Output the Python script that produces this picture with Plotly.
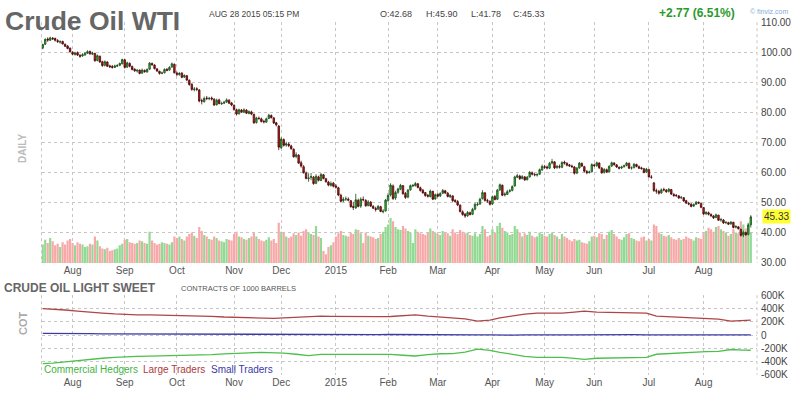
import plotly.graph_objects as go
import pandas as pd

# ---------------- data ----------------
holidays = ["2014-09-01", "2014-11-27", "2014-12-25", "2015-01-01",
            "2015-04-03", "2015-05-25", "2015-07-03"]
days = [d.strftime("%Y-%m-%d") for d in pd.bdate_range("2014-07-16", "2015-08-28")
        if d.strftime("%Y-%m-%d") not in holidays]

opens = [
    101.4, 102.7, 104.4, 104.0, 104.7, 104.6, 103.9, 103.4, 103.6, 102.7, 102.1, 101.4,
    100.0, 99.3, 99.9, 99.0, 98.8, 99.1, 99.7, 100.3, 99.4, 99.6, 97.3, 98.7, 96.9, 95.7, 96.8, 95.5, 95.3, 95.0, 95.4, 95.7, 96.2,
    97.5, 95.1, 96.3, 95.3, 94.4, 93.8, 94.1, 93.1, 94.0, 93.5, 94.4, 96.3, 95.8, 94.5, 93.7, 93.1, 93.2, 94.4, 94.1, 95.1, 96.0,
    93.1, 92.6, 93.1, 91.8, 92.2, 90.7, 89.4, 87.6, 87.9, 87.5, 83.9, 83.6, 84.8, 84.6, 84.8, 84.4, 82.6, 84.2, 82.9, 83.1, 83.5, 84.1, 83.2,
    82.4, 80.9, 79.6, 80.8, 80.1, 80.8, 79.7, 80.2, 79.4, 76.7, 78.1, 77.9, 77.1, 76.8, 78.0, 79.0, 78.2, 76.6, 75.5,
    68.3, 71.0, 69.2, 69.5, 68.9, 67.8, 65.4, 65.8, 63.3, 62.0, 59.9, 58.0, 58.4, 58.5, 56.5, 58.6, 57.4, 59.3, 58.0, 56.9, 55.8, 56.5,
    55.6, 55.0, 52.5, 50.7, 51.3, 51.2, 50.7, 48.8, 48.3, 50.8, 48.9, 51.1, 50.8, 49.1, 50.2, 48.8, 48.1, 47.9, 48.7, 47.0, 47.3,
    50.8, 52.6, 55.6, 51.6, 53.5, 54.5, 55.7, 53.1, 51.9, 54.3, 55.6, 55.7, 56.3, 55.0, 54.2, 53.4, 52.5, 52.1, 53.8, 51.3,
    52.8, 52.3, 53.2, 54.0, 53.2, 52.0, 52.3, 50.8, 50.4, 49.2, 47.0, 46.2, 45.7, 46.7, 46.2, 47.9, 49.4, 49.6, 51.4, 53.3, 50.7, 50.5,
    49.6, 52.1, 51.2, 54.3, 55.8, 52.6, 52.8, 53.8, 54.1, 55.6, 58.5, 58.9, 58.1, 58.6, 57.7, 58.6, 60.0, 59.4, 59.2, 59.5, 60.9,
    62.0, 61.9, 61.5, 63.2, 63.6, 61.7, 62.0, 61.8, 63.5, 63.1, 62.6, 62.2, 61.9, 59.9, 61.6, 63.1, 62.0, 60.4, 60.1, 60.3,
    62.6, 62.3, 63.2, 61.5, 60.1, 61.0, 60.3, 62.2, 63.2, 62.6, 61.8, 61.6, 62.0, 62.4, 63.1, 61.6, 61.7, 62.7, 62.0, 61.6, 61.3, 60.2,
    61.0, 58.5, 56.6, 54.0, 53.8, 53.3, 54.4, 54.2, 53.8, 54.4, 52.8, 52.5, 52.3, 51.7, 51.7, 50.7, 49.8, 49.5, 48.9, 49.5, 50.1, 49.8,
    48.4, 46.4, 46.7, 46.1, 45.6, 45.1, 45.9, 44.3, 44.3, 43.4, 43.4, 43.0, 43.5, 41.9, 42.0, 41.2, 39.3, 40.1, 39.5, 42.68,
]
highs = [
    102.9, 104.7, 105.0, 105.2, 105.1, 104.9, 104.4, 104.0, 103.9, 102.9, 102.4, 101.6,
    100.4, 100.2, 100.3, 99.4, 99.7, 100.1, 100.7, 100.6, 100.2, 99.9, 99.3, 98.9, 97.2, 97.3, 97.0, 95.9, 95.8, 95.9, 96.1, 96.6, 97.9,
    97.8, 96.9, 96.7, 95.6, 94.7, 94.5, 94.3, 94.6, 94.3, 94.7, 96.8, 96.6, 96.0, 94.8, 93.9, 93.6, 94.7, 94.7, 95.4, 96.6, 96.3,
    93.6, 93.5, 93.4, 92.7, 92.5, 91.0, 89.7, 88.5, 88.4, 87.8, 84.6, 85.3, 85.5, 85.2, 85.3, 84.8, 84.6, 84.6, 83.6, 83.9, 84.7, 84.4, 83.5,
    82.7, 81.3, 81.3, 81.2, 81.4, 81.1, 80.7, 80.6, 79.6, 78.6, 78.7, 78.3, 77.6, 78.3, 79.6, 79.4, 78.5, 76.9, 75.8,
    71.8, 71.4, 70.3, 70.1, 69.3, 68.1, 66.8, 66.2, 64.0, 62.5, 60.4, 59.8, 59.9, 58.9, 59.5, 59.0, 59.9, 59.6, 58.3, 57.3, 57.1, 56.9,
    56.2, 55.3, 53.0, 51.9, 52.1, 51.8, 50.9, 50.3, 53.0, 51.4, 51.8, 52.1, 51.2, 50.9, 50.6, 49.3, 48.7, 49.3, 49.0, 47.9, 51.3,
    53.2, 56.5, 56.1, 54.0, 55.0, 56.3, 55.9, 53.6, 54.6, 56.1, 56.2, 56.9, 56.6, 55.4, 54.6, 53.6, 52.9, 54.4, 54.0, 53.1,
    53.2, 53.5, 54.6, 54.3, 53.6, 52.9, 52.5, 51.2, 50.9, 49.5, 47.5, 46.6, 47.3, 47.1, 48.3, 50.0, 50.2, 51.7, 54.2, 53.6, 51.3, 50.8,
    52.4, 52.6, 54.6, 56.4, 56.1, 53.5, 54.3, 54.6, 55.8, 59.0, 59.6, 59.3, 59.2, 58.9, 58.9, 60.6, 60.4, 59.9, 59.8, 61.4, 62.7,
    62.6, 62.4, 63.6, 64.6, 63.9, 62.6, 62.7, 63.8, 64.0, 63.5, 62.9, 62.7, 62.2, 61.9, 63.6, 63.4, 62.3, 60.9, 60.7, 63.1,
    63.0, 63.7, 63.5, 61.9, 61.5, 61.4, 62.5, 63.7, 63.5, 62.9, 62.1, 62.3, 62.7, 63.6, 63.4, 62.1, 63.2, 63.0, 62.4, 62.0, 61.6, 61.6,
    61.3, 59.2, 56.9, 54.7, 54.3, 54.8, 55.0, 54.6, 54.9, 54.6, 53.2, 52.9, 52.6, 52.3, 51.9, 51.0, 50.3, 49.9, 49.8, 50.6, 50.5, 50.1,
    48.6, 47.2, 47.1, 46.5, 45.9, 46.4, 46.0, 45.0, 44.6, 43.9, 43.7, 43.9, 43.7, 42.6, 42.3, 41.4, 40.8, 40.4, 43.1, 45.90,
]
lows = [
    101.0, 102.4, 103.5, 103.8, 104.1, 103.6, 103.1, 102.9, 102.6, 101.8, 101.0, 99.9,
    99.0, 98.9, 98.8, 98.2, 98.5, 98.9, 99.5, 99.2, 99.1, 96.9, 97.0, 96.5, 95.2, 95.3, 95.1, 94.8, 94.6, 94.8, 95.1, 95.4, 96.0,
    94.6, 94.8, 95.0, 94.0, 93.5, 93.3, 92.7, 92.8, 93.2, 93.2, 94.1, 95.5, 94.3, 93.5, 92.6, 92.7, 93.0, 93.7, 93.9, 94.9, 93.0,
    92.1, 92.2, 91.4, 91.5, 90.4, 88.9, 87.2, 87.0, 87.1, 83.4, 82.7, 83.3, 84.1, 84.1, 84.0, 82.2, 82.3, 82.7, 82.5, 82.8, 83.2, 82.8, 82.1,
    80.6, 79.0, 79.3, 79.9, 79.8, 79.5, 79.4, 79.1, 76.2, 76.3, 77.6, 76.7, 76.4, 76.6, 77.8, 78.0, 76.2, 75.4, 67.5,
    67.9, 68.7, 68.6, 68.5, 67.6, 65.0, 64.8, 62.9, 61.7, 59.7, 57.8, 57.0, 57.5, 56.0, 56.2, 57.1, 57.2, 57.8, 56.7, 55.5, 55.4, 55.1,
    54.7, 52.2, 50.1, 50.2, 50.6, 50.5, 48.4, 47.6, 48.0, 48.5, 48.3, 50.5, 48.7, 48.8, 48.6, 47.9, 47.1, 47.7, 46.9, 46.5, 47.1,
    50.3, 52.1, 51.0, 51.0, 53.0, 54.2, 52.7, 51.3, 51.5, 54.0, 55.2, 55.4, 54.8, 53.7, 53.0, 52.0, 51.7, 51.8, 50.9, 51.0,
    51.8, 51.9, 52.9, 52.9, 51.8, 51.6, 50.3, 50.0, 48.9, 46.8, 45.7, 45.0, 45.3, 45.8, 45.9, 47.5, 48.9, 49.3, 51.1, 50.4, 50.0, 49.1,
    49.3, 50.8, 50.9, 53.9, 52.2, 52.1, 52.6, 53.4, 53.8, 55.4, 58.2, 57.6, 57.8, 57.3, 57.4, 58.4, 59.1, 58.8, 58.7, 59.2, 60.6,
    61.3, 61.1, 61.2, 62.8, 61.2, 61.3, 61.4, 61.5, 62.7, 62.1, 61.9, 61.6, 59.4, 59.5, 61.3, 61.9, 60.1, 59.5, 59.7, 60.1,
    61.9, 62.0, 61.2, 59.6, 59.7, 59.9, 60.0, 61.9, 62.3, 61.6, 61.1, 61.2, 61.7, 62.1, 61.2, 61.0, 61.4, 61.8, 61.2, 61.0, 59.8, 59.9,
    58.4, 58.0, 53.6, 53.0, 52.7, 53.0, 53.8, 53.3, 53.4, 52.6, 52.0, 51.9, 51.3, 51.2, 50.3, 49.6, 49.2, 48.5, 48.6, 49.3, 49.6, 48.2,
    46.0, 45.9, 45.8, 45.3, 44.6, 44.9, 44.0, 43.7, 43.0, 42.9, 42.6, 42.7, 41.5, 41.5, 41.1, 38.8, 38.6, 39.0, 39.2, 41.78,
]
closes = [
    102.6, 104.3, 104.1, 104.8, 104.5, 104.0, 103.6, 103.5, 102.8, 102.0, 101.3, 100.2,
    99.4, 99.8, 99.1, 98.7, 99.2, 99.6, 100.2, 99.5, 99.7, 97.2, 98.9, 96.8, 95.6, 96.9, 95.4, 95.2, 95.0, 95.5, 95.6, 96.3, 97.6,
    95.0, 96.5, 95.4, 94.3, 93.9, 94.0, 93.0, 94.1, 93.6, 94.3, 96.4, 95.9, 94.6, 93.8, 93.0, 93.1, 94.3, 94.0, 95.0, 96.2, 93.2,
    92.7, 93.0, 91.7, 92.3, 90.8, 89.3, 87.7, 87.8, 87.7, 83.8, 83.8, 84.7, 84.7, 84.7, 84.5, 82.5, 84.1, 83.0, 83.0, 83.4, 84.2, 83.1, 82.5,
    81.0, 79.5, 80.9, 80.2, 80.9, 79.8, 80.3, 79.5, 76.6, 78.2, 78.0, 77.0, 76.9, 77.9, 79.1, 78.3, 76.5, 75.9, 68.5,
    71.2, 69.1, 69.6, 69.0, 68.0, 65.3, 66.0, 63.2, 62.2, 60.0, 58.1, 58.2, 58.7, 56.4, 58.8, 57.5, 59.4, 58.1, 57.0, 55.9, 56.4, 55.5,
    55.2, 52.6, 50.5, 51.2, 51.3, 50.9, 48.7, 48.5, 51.0, 48.8, 51.2, 51.0, 49.0, 50.3, 48.9, 48.2, 47.8, 48.8, 47.1, 47.2, 50.9,
    52.5, 55.9, 51.4, 53.4, 54.6, 55.8, 53.0, 51.8, 54.2, 55.7, 55.8, 56.4, 55.1, 54.1, 53.3, 52.4, 52.2, 53.9, 51.2, 52.7,
    52.2, 53.1, 54.1, 53.3, 52.1, 52.4, 50.7, 50.5, 49.3, 47.1, 46.1, 45.6, 46.8, 46.1, 47.8, 49.5, 49.5, 51.2, 53.4, 50.8, 50.6, 49.5,
    52.0, 51.1, 54.2, 56.0, 52.5, 52.9, 53.7, 54.0, 55.4, 58.6, 59.0, 58.0, 58.7, 57.6, 58.5, 60.1, 59.5, 59.3, 59.4, 61.0, 62.1,
    61.8, 61.6, 63.1, 63.7, 61.6, 62.1, 61.9, 63.4, 63.2, 62.5, 62.3, 62.0, 59.8, 61.5, 63.2, 62.2, 60.5, 60.0, 60.2, 62.7,
    62.4, 63.3, 61.6, 60.0, 61.1, 60.2, 62.1, 63.3, 62.7, 61.9, 61.5, 61.9, 62.3, 63.2, 61.5, 61.6, 62.8, 62.1, 61.5, 61.4, 60.1, 61.2,
    58.6, 58.5, 54.1, 53.9, 53.2, 54.3, 54.3, 53.7, 54.5, 52.9, 52.4, 52.4, 51.6, 51.8, 50.6, 49.9, 49.6, 48.8, 49.4, 50.2, 49.9, 48.5,
    46.3, 46.8, 46.2, 45.7, 45.0, 46.0, 44.2, 44.4, 43.3, 43.5, 42.9, 43.6, 41.8, 42.1, 41.4, 39.2, 40.2, 39.4, 42.6, 45.33,
]
volumes_k = [
    230, 290, 250, 310, 270, 220, 240, 200, 260, 230, 280, 300,
    250, 220, 260, 240, 230, 200, 210, 240, 230, 330, 280, 210, 180, 170, 190, 150, 160, 170, 180, 220, 240,
    290, 300, 260, 250, 240, 250, 280, 270, 250, 240, 390, 280, 250, 230, 240, 260, 250, 240, 230, 260, 330,
    310, 330, 300, 280, 330, 360, 380, 340, 310, 450, 400, 350, 330, 300, 290, 330, 310, 280, 270, 260, 300, 290, 280,
    360, 390, 330, 320, 300, 290, 310, 330, 380, 330, 300, 280, 270, 290, 320, 280, 300, 250, 500,
    390, 380, 330, 310, 330, 370, 350, 380, 340, 400, 420, 380, 360, 350, 460, 330, 310, 150, 110, 200, 220, 260,
    330, 370, 400, 350, 340, 330, 380, 360, 420, 410, 370, 250, 380, 340, 330, 320, 300, 310, 360, 390, 450,
    480, 560, 520, 450, 420, 410, 460, 430, 400, 380, 250, 420, 390, 370, 360, 350, 380, 430, 400, 380,
    360, 350, 400, 380, 370, 340, 420, 380, 360, 410, 390, 370, 380, 350, 340, 370, 330, 360, 460, 420, 330, 350,
    420, 380, 460, 500, 440, 400, 380, 350, 360, 460, 420, 380, 330, 370, 350, 390, 340, 320, 330, 380, 360,
    340, 330, 360, 380, 350, 330, 300, 360, 330, 310, 290, 270, 300, 280, 290, 260, 250, 240, 270, 330,
    340, 320, 370, 360, 300, 350, 390, 410, 360, 330, 300, 290, 320, 360, 370, 310, 300, 280, 270, 320, 330, 280,
    300, 280, 480, 460, 380, 360, 340, 330, 350, 320, 300, 290, 310, 290, 300, 330, 310, 300, 280, 320, 310, 300,
    380, 400, 440, 420, 390, 450, 460, 420, 400, 380, 340, 360, 420, 380, 370, 520, 480, 430, 500, 380,
]

month_labels = ["Aug", "Sep", "Oct", "Nov", "Dec", "2015", "Feb", "Mar",
                "Apr", "May", "Jun", "Jul", "Aug"]

cot_dates = (["2014-07-16"]
             + [d.strftime("%Y-%m-%d") for d in pd.date_range("2014-07-22", "2015-08-25", freq="W-TUE")]
             + ["2015-08-28"])
large_traders = [
    400, 395, 378, 360, 340, 330, 318, 310, 305, 303, 300, 298, 296, 292, 282, 272,
    268, 256, 250, 252, 258, 270, 282, 285, 283, 280, 278, 276, 278, 280, 292, 304,
    285, 272, 268, 245, 210, 225, 258, 285, 315, 330, 328, 330, 345, 360, 345, 340,
    338, 337, 330, 285, 275, 262, 255, 245, 240, 210, 222, 225,
]
small_traders = [
    25, 26, 24, 22, 20, 18, 17, 16, 15, 14, 14, 15, 13, 12, 12, 11,
    12, 10, 8, 9, 10, 8, 4, 5, 7, 8, 8, 6, 7, 8, 9, 9,
    8, 6, 9, 8, 4, 2, -2, 0, 3, 6, 5, 3, 2, 4, 3, 1,
    2, 6, 4, 2, 0, 1, 2, 2, 3, 6, 2, 2,
]
commercial_hedgers = [
    -430, -425, -405, -385, -362, -350, -338, -328, -322, -318, -315, -313, -310, -305, -296, -285,
    -281, -268, -260, -262, -272, -290, -310, -292, -292, -290, -288, -285, -288, -292, -305, -316,
    -296, -282, -280, -258, -212, -230, -260, -290, -322, -338, -337, -338, -352, -368, -350, -345,
    -342, -345, -337, -290, -278, -265, -258, -249, -245, -218, -226, -229,
]

cot_ticks = [600, 400, 200, 0, -200, -400, -600]
cot_tick_text = ["600K", "400K", "200K", "0", "-200K", "-400K", "-600K"]
price_ticks = [30, 40, 50, 60, 70, 80, 90, 100, 110]

assert len(days) == len(opens) == len(highs) == len(lows) == len(closes) == len(volumes_k)
assert len(cot_dates) == len(large_traders) == len(small_traders) == len(commercial_hedgers)

# ---------------- helpers ----------------
W, H = 798, 398
def px(x):
    return x / W
def py(y):
    return 1 - y / H

tick_days = []
prev = None
for d in days:
    if d[:7] != prev:
        tick_days.append(d)
        prev = d[:7]
tick_days = tick_days[1:]

FONT = "Liberation Sans, Arial, sans-serif"
GRID = "#c6c6c6"
vol_colors = ["#93d993" if c >= o else "#f7a9a9" for o, c in zip(opens, closes)]

fig = go.Figure()

fig.add_trace(go.Bar(x=days, y=volumes_k, marker=dict(color=vol_colors, line=dict(width=0)),
                     xaxis="x", yaxis="y", hoverinfo="skip"))
fig.add_trace(go.Candlestick(
    x=days, open=opens, high=highs, low=lows, close=closes,
    xaxis="x", yaxis="y2",
    increasing=dict(line=dict(color="#1d4d1d", width=0.8), fillcolor="#2fbf2f"),
    decreasing=dict(line=dict(color="#4a0808", width=0.8), fillcolor="#c01c1c"),
    whiskerwidth=0,
))

fig.add_trace(go.Scatter(x=cot_dates, y=large_traders, mode="lines",
                         line=dict(color="#b04545", width=1.3), xaxis="x2", yaxis="y3"))
fig.add_trace(go.Scatter(x=cot_dates, y=small_traders, mode="lines",
                         line=dict(color="#3b3ba8", width=1.3), xaxis="x2", yaxis="y3"))
fig.add_trace(go.Scatter(x=cot_dates, y=commercial_hedgers, mode="lines",
                         line=dict(color="#4cc04c", width=1.3), xaxis="x2", yaxis="y3"))

xdom = [px(41.5), px(757)]
xrange = [-0.5, len(days) + 1.5]
common_x = dict(type="category", categoryorder="array", categoryarray=days,
                range=xrange, domain=xdom, tickvals=tick_days, ticktext=month_labels,
                showgrid=True, gridcolor=GRID, griddash="dot", gridwidth=1,
                ticks="", showline=False, zeroline=False,
                tickfont=dict(family=FONT, size=10, color="#555"),
                rangeslider=dict(visible=False), fixedrange=True)

fig.update_layout(
    width=W, height=H, margin=dict(l=0, r=0, t=0, b=0),
    paper_bgcolor="white", plot_bgcolor="white", showlegend=False,
    bargap=0.12, boxgap=0.15,
    font=dict(family=FONT, color="#555"),
    xaxis=dict(anchor="y", **common_x),
    yaxis=dict(domain=[py(264.3), py(16.7)], range=[0, 3000], visible=False,
               showgrid=False, fixedrange=True),
    yaxis2=dict(overlaying="y", anchor="x", side="right", range=[30, 110],
                tickvals=price_ticks, tickformat=".2f", showgrid=True,
                gridcolor=GRID, griddash="dot", zeroline=False, ticks="",
                ticklabelstandoff=3,
                tickfont=dict(family=FONT, size=10, color="#444"), fixedrange=True),
    xaxis2=dict(anchor="y3", **common_x),
    yaxis3=dict(domain=[py(379.3), py(297.5)], anchor="x2", side="right",
                range=[-600, 600], tickvals=cot_ticks, ticktext=cot_tick_text,
                showgrid=True, gridcolor=GRID, griddash="dot", zeroline=False,
                ticks="", ticklabelstandoff=3,
                tickfont=dict(family=FONT, size=10, color="#444"),
                fixedrange=True),
)

# left / right dotted borders of both panels
for y0, y1 in [(16.7, 264.3), (297.5, 379.3)]:
    for xx in (41.5, 757):
        fig.add_shape(type="line", xref="paper", yref="paper",
                      x0=px(xx), x1=px(xx), y0=py(y0), y1=py(y1),
                      line=dict(color=GRID, width=1, dash="dot"))

def note(text, x, y, size, color, bold=False, xanchor="left", angle=0, **kw):
    t = f"<b>{text}</b>" if bold else text
    fig.add_annotation(text=t, x=px(x), y=py(y), xref="paper", yref="paper",
                       xanchor=xanchor, yanchor="middle", showarrow=False,
                       textangle=angle,
                       font=dict(family=FONT, size=size, color=color), **kw)

note("Crude Oil WTI", 3, 15, 26.5, "#666", bold=True)
note("AUG 28 2015 05:15 PM", 207, 8, 8.5, "#444")
note("O:42.68", 378, 8, 9, "#444")
note("H:45.90", 424, 8, 9, "#444")
note("L:41.78", 469, 8, 9, "#444")
note("C:45.33", 511, 8, 9, "#444")
note("+2.77 (6.51%)", 657, 7, 12, "#2a9a2a", bold=True)
note("© finviz.com", 748, 6, 7, "#86aed6")
note("DAILY", 23, 147, 10, "#bbbbbb", bold=True, xanchor="center", angle=-90)
note("COT", 23, 326, 11, "#aaaaaa", bold=True, xanchor="center", angle=-90)
note("CRUDE OIL LIGHT SWEET", 2, 290, 12, "#666", bold=True)
note("CONTRACTS OF 1000 BARRELS", 179, 291, 7.5, "#555")
note("Commercial Hedgers", 42, 374, 10, "#3fb43f")
note("Large Traders", 141, 374, 10, "#b03a3a")
note("Small Traders", 209, 374, 10, "#3a3aa6")

fig.add_annotation(text=f"{closes[-1]:.2f}", x=px(762), y=closes[-1], xref="paper", yref="y2",
                   xanchor="left", yanchor="middle", showarrow=False,
                   bgcolor="#ffff33", borderpad=1,
                   font=dict(family=FONT, size=10, color="#333"))

fig.write_html("out.html", config={"displayModeBar": False},
               post_script="document.body.style.margin='0';document.body.style.overflow='hidden';")
